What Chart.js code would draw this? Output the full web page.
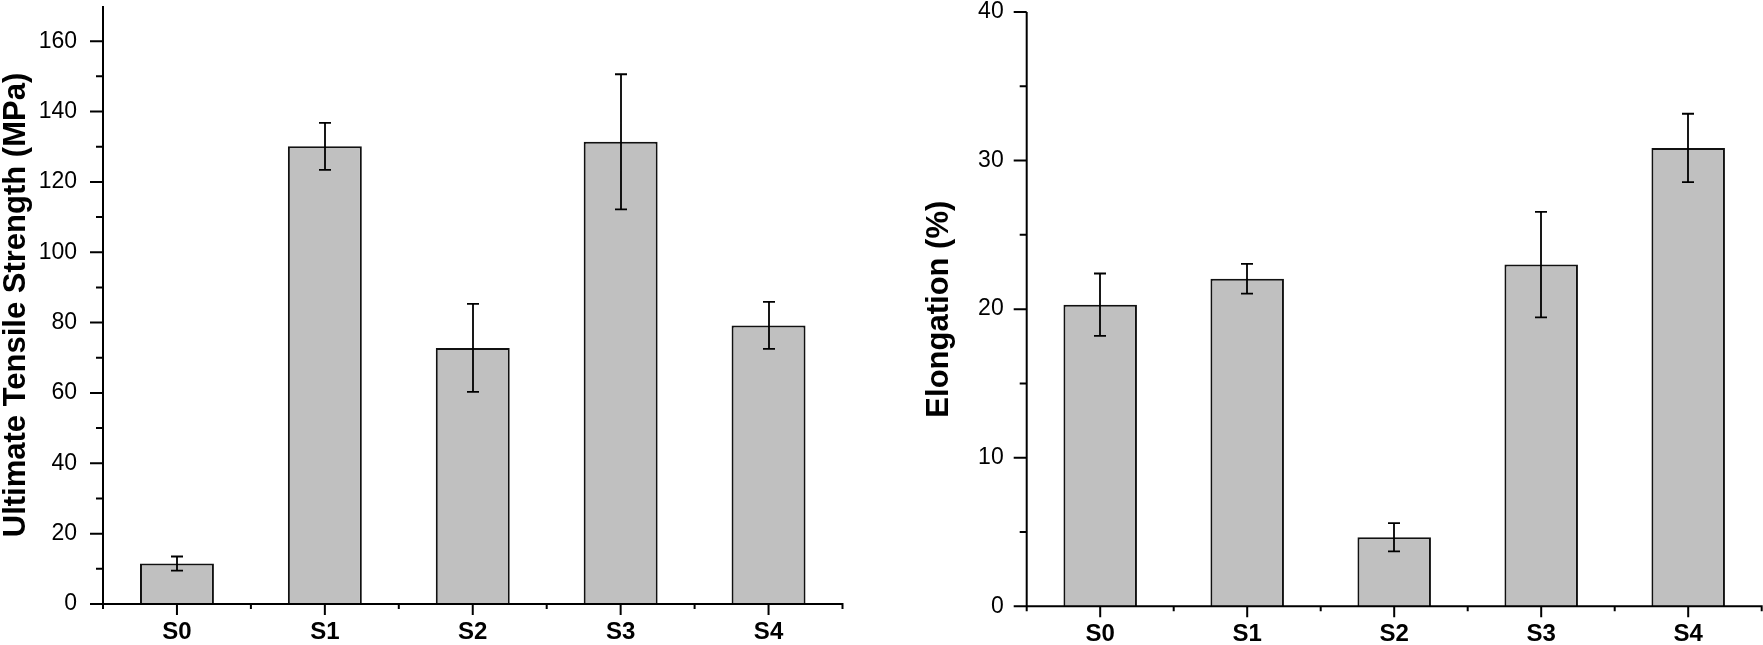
<!DOCTYPE html>
<html><head><meta charset="utf-8">
<script src="https://cdn.jsdelivr.net/npm/chart.js@4.4.1/dist/chart.umd.min.js"></script>
<style>
html,body{margin:0;padding:0;background:#fff;width:1763px;height:645px;overflow:hidden}
canvas{position:absolute;top:0}
#c1{left:0}
#c2{left:880px}
</style></head><body>
<canvas id="c1" width="880" height="645"></canvas>
<canvas id="c2" width="883" height="645"></canvas>
<script>
const categories = ['S0', 'S1', 'S2', 'S3', 'S4'];

const strengthValues = [11.5, 130.1, 72.8, 131.4, 79.2];
const strengthErrors = [2.0, 6.7, 12.5, 19.2, 6.7];
const strengthTicks = [0, 20, 40, 60, 80, 100, 120, 140, 160];
const strengthMinorTicks = [10, 30, 50, 70, 90, 110, 130, 150];

const elongationValues = [20.3, 22.05, 4.65, 23.0, 30.85];
const elongationErrors = [2.1, 1.0, 0.95, 3.55, 2.3];
const elongationTicks = [0, 10, 20, 30, 40];
const elongationMinorTicks = [5, 15, 25, 35];

const axesPlugin = {
  id: 'axesPlugin',
  afterDatasetsDraw(chart) {
    const cfg = chart.options.plugins.axesPlugin;
    const { ctx, chartArea: a, scales: { x, y } } = chart;
    const meta = chart.getDatasetMeta(0);
    const data = chart.data.datasets[0].data;
    ctx.save();
    ctx.strokeStyle = '#000';
    ctx.lineCap = 'butt';
    // error bars
    ctx.lineWidth = 1.8;
    ctx.beginPath();
    meta.data.forEach((bar, i) => {
      const v = data[i], e = cfg.errors[i];
      const yt = y.getPixelForValue(v + e), yb = y.getPixelForValue(v - e);
      const cx = Math.round(bar.x);
      ctx.moveTo(cx, yt); ctx.lineTo(cx, yb);
      ctx.moveTo(cx - 6, yt); ctx.lineTo(cx + 6, yt);
      ctx.moveTo(cx - 6, yb); ctx.lineTo(cx + 6, yb);
    });
    ctx.stroke();
    // axes
    ctx.lineWidth = 2;
    ctx.beginPath();
    ctx.moveTo(a.left, a.bottom + 1); ctx.lineTo(a.left, a.top);
    ctx.moveTo(a.left, a.bottom); ctx.lineTo(a.right + 1, a.bottom);
    cfg.major.forEach(v => { const p = y.getPixelForValue(v); ctx.moveTo(a.left - 13, p); ctx.lineTo(a.left, p); });
    cfg.minor.forEach(v => { const p = y.getPixelForValue(v); ctx.moveTo(a.left - 7, p); ctx.lineTo(a.left, p); });
    categories.forEach((c, i) => { const p = x.getPixelForValue(i); ctx.moveTo(p, a.bottom); ctx.lineTo(p, a.bottom + 11); });
    for (let i = 0; i <= categories.length; i++) {
      const p = x.getPixelForValue(i - 0.5);
      ctx.moveTo(p, a.bottom); ctx.lineTo(p, a.bottom + 5);
    }
    ctx.stroke();
    ctx.restore();
  }
};

function makeChart(id, values, errors, yMax, major, minor, title, g) {
  return new Chart(document.getElementById(id), {
    type: 'bar',
    data: {
      labels: categories,
      datasets: [{
        data: values,
        backgroundColor: '#c0c0c0',
        borderColor: '#111',
        borderWidth: 2,
        borderSkipped: 'start',
        barPercentage: 0.5,
        categoryPercentage: 1.0
      }]
    },
    options: {
      responsive: false,
      animation: false,
      devicePixelRatio: 1,
      layout: { padding: { top: g.top, right: g.right, left: 0, bottom: 0 } },
      plugins: {
        legend: { display: false },
        tooltip: { enabled: false },
        axesPlugin: { errors: errors, major: major, minor: minor }
      },
      scales: {
        x: {
          grid: { display: false, drawTicks: false },
          border: { display: false },
          ticks: { color: '#000', padding: g.xPad, font: { family: 'Liberation Sans', size: 24, weight: 'bold' } },
          afterFit(s) { s.height = g.xHeight; s.paddingLeft = 0; s.paddingRight = 0; }
        },
        y: {
          min: 0,
          max: yMax,
          grid: { display: false, drawTicks: false },
          border: { display: false },
          ticks: { color: '#000', padding: g.yPad, font: { family: 'Liberation Sans', size: 23 } },
          afterBuildTicks(s) { s.ticks = major.map(v => ({ value: v })); },
          afterFit(s) { s.width = g.yWidth; s.paddingTop = 0; s.paddingBottom = 0; },
          title: {
            display: true,
            text: title,
            color: '#000',
            padding: { top: g.titlePad, bottom: 0 },
            font: { family: 'Liberation Sans', size: 31, weight: 'bold', lineHeight: 1 }
          }
        }
      }
    },
    plugins: [axesPlugin]
  });
}

makeChart('c1', strengthValues, strengthErrors, 170, strengthTicks, strengthMinorTicks,
  'Ultimate Tensile Strength (MPa)',
  { top: 6, right: 37.5, yWidth: 103, xHeight: 41, xPad: 14, yPad: 26, titlePad: 1 });

makeChart('c2', elongationValues, elongationErrors, 40, elongationTicks, elongationMinorTicks,
  'Elongation (%)',
  { top: 12, right: 1.3, yWidth: 146.7, xHeight: 38.7, xPad: 14, yPad: 23, titlePad: 43.5 });
</script>
</body></html>
